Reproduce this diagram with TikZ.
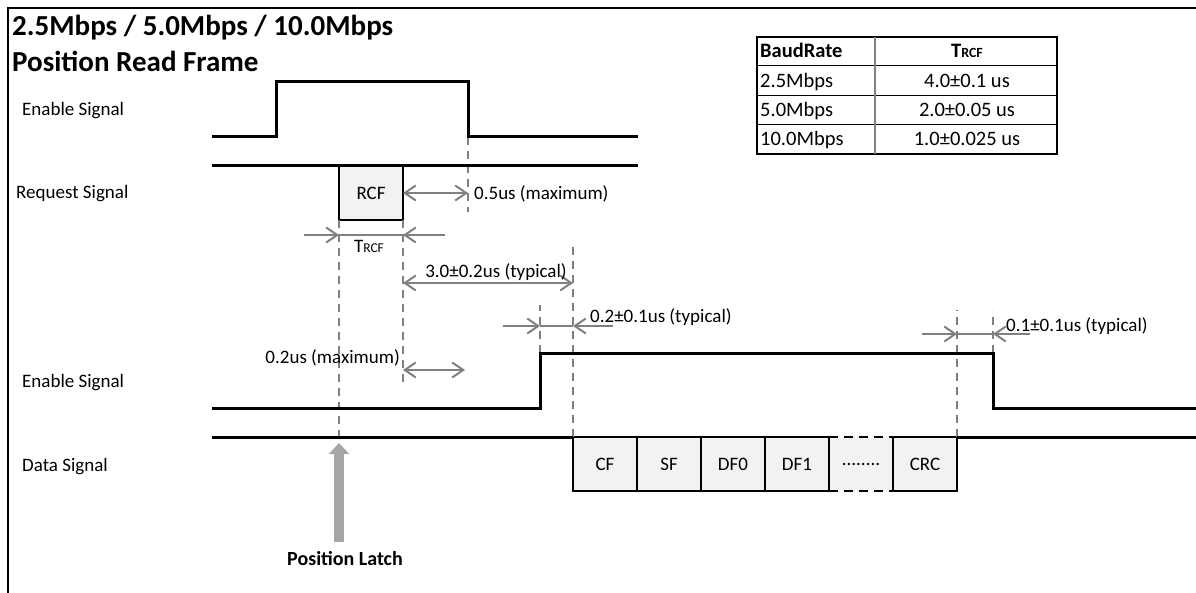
\documentclass[tikz,border=0pt]{standalone}
\usepackage{fontspec}
\setmainfont{Carlito}
\usetikzlibrary{arrows.meta}
\definecolor{dim}{HTML}{808080}
\definecolor{latch}{HTML}{A6A6A6}
\definecolor{cellfill}{HTML}{F2F2F2}

\tikzset{
  sig/.style={line width=3pt, draw=black},
  guide/.style={draw=dim, line width=1.5pt, dash pattern=on 8pt off 6pt},
  dimline/.style={draw=dim, line width=1.5pt},
  dimarr/.style={draw=dim, line width=2pt, -{Straight Barb[length=11pt, width=15pt]}},
  dimboth/.style={draw=dim, line width=2pt,
    {Straight Barb[length=11pt, width=15pt]}-{Straight Barb[length=11pt, width=15pt]}},
  lbl/.style={inner sep=0pt, font=\fontsize{19}{22}\selectfont},
  heading/.style={inner sep=0pt, font=\fontsize{29}{34}\selectfont\bfseries},
  field/.style={draw, line width=2pt, fill=cellfill, outer sep=0pt, inner sep=0pt,
    minimum width=64pt, minimum height=54pt, font=\fontsize{19}{22}\selectfont},
  gapfield/.style={fill=cellfill, outer sep=0pt, inner sep=0pt,
    minimum width=64pt, minimum height=54pt, font=\fontsize{19}{22}\selectfont},
  gapline/.style={line width=2pt, dash pattern=on 9pt off 6pt},
  cell/.style={inner sep=0pt, font=\fontsize{20.5}{24}\selectfont},
  cellhead/.style={cell, font=\fontsize{20.5}{24}\selectfont\bfseries},
  latcharr/.style={draw=latch, line width=10pt, -{Triangle[length=11pt, width=20pt]}},
}

\begin{document}
\begin{tikzpicture}[x=1pt, y=-1pt]
  \useasboundingbox (0,0) rectangle (1196,593);

  % Frame
  \draw[line width=2.5pt] (1196,8) -- (8,8) -- (8,593);

  % Title
  \node[heading, anchor=base west] (titleA) at (12,36) {2.5Mbps / 5.0Mbps / 10.0Mbps};
  \node[heading, anchor=base west] (titleB) at (12,72) {Position Read Frame};

  % Signal names
  \foreach \nm/\x/\y/\txt in {nameEnA/22/116/{Enable Signal}, nameReq/16/199/{Request Signal},
                             nameEnB/22/387/{Enable Signal}, nameData/22/471/{Data Signal}}
    \node[lbl, anchor=base west] (\nm) at (\x,\y) {\txt};

  % Edges of the enable pulses
  \coordinate (fallA) at (468,137);
  \coordinate (riseB) at (540,353);
  \coordinate (fallB) at (993,353);

  % Frame fields (dashed one first)
  \node[gapfield] (more) at (861,464) {........};
  \foreach \nm/\x/\txt in {cf/605/CF, sf/669/SF, dfa/733/DF0, dfb/797/DF1, crc/925/CRC}
    \node[field] (\nm) at (\x,464) {\txt};
  \draw[gapline] (more.north west) -- (more.north east);
  \draw[gapline] (more.south west) -- (more.south east);

  % Dashed guides
  \draw[guide] (fallA) -- ++(0,75);
  \draw[guide] (riseB) -- ++(0,-48);
  \draw[guide] (fallB) -- ++(0,-42);
  \draw[guide] (cf.north west) -- ++(0,-194);
  \draw[guide] (crc.north east) -- ++(0,-127);

  % Waveforms
  \draw[sig] (212,137) -- (276,137) -- (276,82) -- (fallA |- 276,82) -- (fallA) -- (638,137);
  \draw[sig] (212,166) -- (638,166);
  \node[field] (rcf) at (371,193) {RCF};
  \draw[guide] (rcf.south west) -- (rcf.south west |- cf.north);
  \draw[guide] (rcf.south east) -- ++(0,163);
  \draw[sig] (212,408) -- (riseB |- 212,408) -- (riseB) -- (fallB) -- (fallB |- 212,408) -- (1196,408);
  \draw[sig] (212,437) -- (cf.north west);
  \draw[sig] (crc.north east) -- (1196,437);

  % Timing marks
  \draw[dimboth] (rcf.east) -- (rcf.east -| fallA);
  \node[lbl, anchor=base west] (tMaxA) at (474,200) {0.5us (maximum)};

  \coordinate (trcfL) at (304,235);
  \coordinate (trcfR) at (445,235);
  \draw[dimline] (trcfL -| rcf.west) -- (trcfL -| rcf.east);
  \draw[dimarr] (trcfL) -- (trcfL -| rcf.west);
  \draw[dimarr] (trcfR) -- (trcfR -| rcf.east);
  \node[lbl, anchor=base] (tRcf) at (369,253) {T{\fontsize{13.5}{14}\selectfont RCF}};

  \coordinate (typA) at (403,283);
  \draw[dimboth] (typA) -- (typA -| cf.west);
  \node[lbl, anchor=base] (tTypA) at (496,278) {3.0±0.2us (typical)};

  \coordinate (riseL) at (503,326);
  \coordinate (riseR) at (613,326);
  \draw[dimline] (riseL -| riseB) -- (riseL -| cf.west);
  \draw[dimarr] (riseL) -- (riseL -| riseB);
  \draw[dimarr] (riseR) -- (riseR -| cf.west);
  \node[lbl, anchor=base west] (tTypB) at (590,323) {0.2±0.1us (typical)};

  \coordinate (latA) at (403,370);
  \draw[dimboth] (latA) -- ++(62,0);
  \node[lbl, anchor=base east] (tMaxB) at (400,363) {0.2us (maximum)};

  \coordinate (fallL) at (922,334);
  \coordinate (fallR) at (1030,334);
  \draw[dimline] (fallL -| crc.east) -- (fallL -| fallB);
  \draw[dimarr] (fallL) -- (fallL -| crc.east);
  \draw[dimarr] (fallR) -- (fallR -| fallB);
  \node[lbl, anchor=base west] (tTypC) at (1006,331) {0.1±0.1us (typical)};

  % Position latch
  \coordinate (latchFoot) at (339,542);
  \draw[latcharr] (latchFoot) -- (latchFoot |- 0,443);
  \node[lbl, font=\fontsize{20}{24}\selectfont\bfseries, anchor=base] (latchTxt) at (345,565) {Position Latch};

  % Baud rate table
  \draw[line width=1.2pt] (757,37) rectangle (1057,154);
  \foreach \y in {66,96,125}
    \draw[line width=1pt] (757,\y) -- (1057,\y);
  \draw[draw=dim, line width=2pt] (875,37) -- (875,154);
  \node[cellhead, anchor=base west] (hRate) at (760,58) {BaudRate};
  \node[cellhead, anchor=base] (hTrcf) at (967,58) {T{\fontsize{14}{14}\selectfont RCF}};
  \foreach \rate/\val/\yb [count=\i] in {2.5Mbps/{4.0±0.1 us}/88, 5.0Mbps/{2.0±0.05 us}/117,
                                          10.0Mbps/{1.0±0.025 us}/146} {
    \node[cell, anchor=base west] (rate\i) at (760,\yb) {\rate};
    \node[cell, anchor=base] (val\i) at (967,\yb) {\val};
  }
\end{tikzpicture}
\end{document}
